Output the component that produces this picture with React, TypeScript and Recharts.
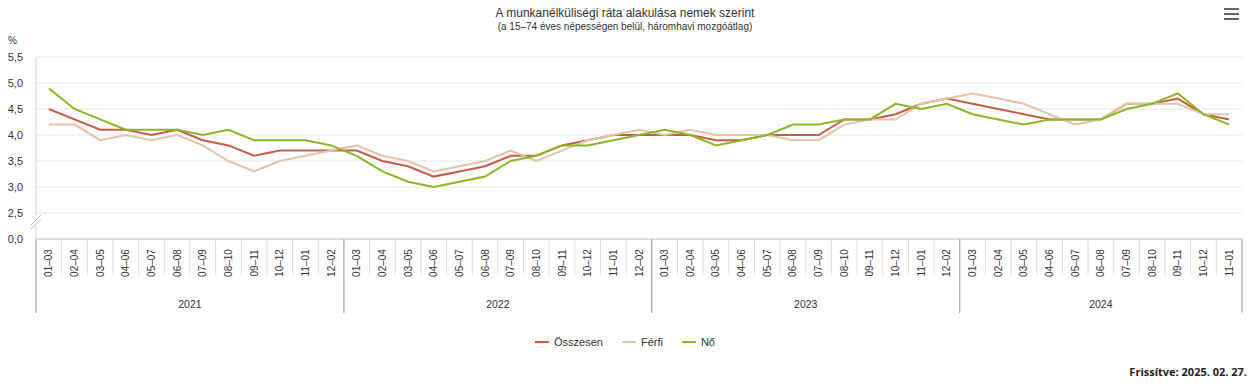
import React from 'react';
import { LineChart, Line, XAxis, YAxis, CartesianGrid } from 'recharts';

const periods = ['01–03', '02–04', '03–05', '04–06', '05–07', '06–08', '07–09', '08–10', '09–11', '10–12', '11–01', '12–02'];
const years = ['2021', '2022', '2023', '2024'];
const yearCounts = [12, 12, 12, 11];

const total = [
  4.5, 4.3, 4.1, 4.1, 4.0, 4.1, 3.9, 3.8, 3.6, 3.7, 3.7, 3.7,
  3.7, 3.5, 3.4, 3.2, 3.3, 3.4, 3.6, 3.6, 3.8, 3.9, 4.0, 4.0,
  4.0, 4.0, 3.9, 3.9, 4.0, 4.0, 4.0, 4.3, 4.3, 4.4, 4.6, 4.7,
  4.6, 4.5, 4.4, 4.3, 4.3, 4.3, 4.6, 4.6, 4.7, 4.4, 4.3,
];
const male = [
  4.2, 4.2, 3.9, 4.0, 3.9, 4.0, 3.8, 3.5, 3.3, 3.5, 3.6, 3.7,
  3.8, 3.6, 3.5, 3.3, 3.4, 3.5, 3.7, 3.5, 3.7, 3.9, 4.0, 4.1,
  4.0, 4.1, 4.0, 4.0, 4.0, 3.9, 3.9, 4.2, 4.3, 4.3, 4.6, 4.7,
  4.8, 4.7, 4.6, 4.4, 4.2, 4.3, 4.6, 4.6, 4.6, 4.4, 4.4,
];
const female = [
  4.9, 4.5, 4.3, 4.1, 4.1, 4.1, 4.0, 4.1, 3.9, 3.9, 3.9, 3.8,
  3.6, 3.3, 3.1, 3.0, 3.1, 3.2, 3.5, 3.6, 3.8, 3.8, 3.9, 4.0,
  4.1, 4.0, 3.8, 3.9, 4.0, 4.2, 4.2, 4.3, 4.3, 4.6, 4.5, 4.6,
  4.4, 4.3, 4.2, 4.3, 4.3, 4.3, 4.5, 4.6, 4.8, 4.4, 4.2,
];

const seriesNames = ['Összesen', 'Férfi', 'Nő'];
const seriesKeys = ['total', 'male', 'female'];
const seriesColors = ['#c75c46', '#e3c3ab', '#8db524'];
const seriesValues = [total, male, female];

const yTicks = [2, 2.5, 3, 3.5, 4, 4.5, 5, 5.5];

const W = 1258;
const H = 387;
const M_TOP = 57;
const M_RIGHT = 16;
const Y_W = 36;
const X_H = 75;
const M_BOTTOM = 73;
const N = total.length;
const PLOT_W = W - M_RIGHT - Y_W;
const BW = PLOT_W / N;

const yearStart: number[] = [];
{
  let acc = 0;
  yearCounts.forEach((c) => {
    yearStart.push(acc);
    acc += c;
  });
}

const data = total.map((_, i) => {
  let yi = 0;
  for (let k = 0; k < yearStart.length; k++) if (i >= yearStart[k]) yi = k;
  const row: any = { id: String(i), period: periods[(i - yearStart[yi]) % 12], year: years[yi] };
  seriesKeys.forEach((k, s) => (row[k] = seriesValues[s][i]));
  return row;
});

const FONT = '"Liberation Sans", Arial, sans-serif';

const XTick = (props: any) => {
  const { x, y, payload } = props;
  const i = Number(payload.value);
  const row = data[i];
  const xl = x - BW / 2;
  const ys = yearStart.indexOf(i);
  const isStart = ys >= 0;
  return (
    <g>
      {isStart ? (
        <line x1={xl} x2={xl} y1={y} y2={y + 74} stroke="#a8a8a8" strokeWidth={1.2} />
      ) : (
        <line x1={xl} x2={xl} y1={y} y2={y + 36} stroke="#dcdcdc" strokeWidth={1} />
      )}
      {i === N - 1 && <line x1={x + BW / 2} x2={x + BW / 2} y1={y} y2={y + 74} stroke="#a8a8a8" strokeWidth={1.2} />}
      <text
        transform={`translate(${x},${y + 24}) rotate(-90)`}
        textAnchor="middle"
        dominantBaseline="central"
        fontSize={10}
        fill="#333"
        fontFamily={FONT}
      >
        {row.period}
      </text>
      {isStart && (
        <text
          x={xl + (yearCounts[ys] * BW) / 2}
          y={y + 65}
          textAnchor="middle"
          dominantBaseline="central"
          fontSize={10.5}
          fill="#333"
          fontFamily={FONT}
        >
          {years[ys]}
        </text>
      )}
    </g>
  );
};

const fmtY = (v: number) => (v === 2 ? '0,0' : v.toFixed(1).replace('.', ','));

const YTick = (props: any) => {
  const { x, y, payload } = props;
  const v = payload.value;
  const ax = x + 13;
  return (
    <g>
      {v === 2 && (
        <g>
          <rect x={ax - 2} y={y - 23} width={4} height={10} fill="#fff" />
          <line x1={ax - 5} y1={y - 10} x2={ax + 5} y2={y - 20} stroke="#b8b8b8" strokeWidth={1} />
          <line x1={ax - 5} y1={y - 14} x2={ax + 5} y2={y - 24} stroke="#b8b8b8" strokeWidth={1} />
        </g>
      )}
      <text x={x} y={y} textAnchor="end" dominantBaseline="central" fontSize={11} fill="#333" fontFamily={FONT}>
        {fmtY(v)}
      </text>
    </g>
  );
};

export default function App() {
  return (
    <div style={{ position: 'absolute', left: 0, top: 0, width: W, height: H, background: '#fff', fontFamily: FONT }}>
      <div style={{ position: 'absolute', left: 0, width: 1250, top: 5, textAlign: 'center', fontSize: 12, color: '#333', lineHeight: '16px' }}>
        A munkanélküliségi ráta alakulása nemek szerint
      </div>
      <div style={{ position: 'absolute', left: 0, width: 1250, top: 20, textAlign: 'center', fontSize: 10, color: '#333', lineHeight: '13px' }}>
        (a 15–74 éves népességen belül, háromhavi mozgóátlag)
      </div>
      <div style={{ position: 'absolute', left: 8, top: 34, fontSize: 10, color: '#333', lineHeight: '13px' }}>%</div>
      <div style={{ position: 'absolute', left: 1224, top: 8 }}>
        {[0, 1, 2].map((k) => (
          <div key={k} style={{ width: 15, height: 2, background: '#666', marginBottom: 3 }} />
        ))}
      </div>
      <div style={{ position: 'absolute', left: 0, top: 0 }}>
        <LineChart width={W} height={H} data={data} margin={{ top: M_TOP, right: M_RIGHT, left: 0, bottom: M_BOTTOM }}>
          <CartesianGrid vertical={false} stroke="#e6e6e6" />
          <XAxis
            dataKey="id"
            scale="band"
            type="category"
            interval={0}
            height={X_H}
            tickLine={false}
            tickSize={0}
            tickMargin={0}
            axisLine={{ stroke: '#c8c8c8' }}
            tick={<XTick />}
          />
          <YAxis
            type="number"
            domain={[2, 5.5]}
            ticks={yTicks}
            width={Y_W}
            tickLine={false}
            tickSize={0}
            tickMargin={13}
            axisLine={{ stroke: '#d0d0d0' }}
            tick={<YTick />}
            interval={0}
          />
          {seriesKeys.map((k, s) => (
            <Line
              key={k}
              dataKey={k}
              name={seriesNames[s]}
              stroke={seriesColors[s]}
              strokeWidth={2}
              dot={false}
              activeDot={false}
              isAnimationActive={false}
              type="linear"
            />
          ))}
        </LineChart>
      </div>
      <div
        style={{
          position: 'absolute',
          left: 0,
          width: 1250,
          top: 334,
          display: 'flex',
          justifyContent: 'center',
          fontSize: 11,
          color: '#333',
          lineHeight: '16px',
        }}
      >
        {seriesNames.map((n, s) => (
          <div key={n} style={{ display: 'flex', alignItems: 'center', marginRight: s < seriesNames.length - 1 ? 19 : 0 }}>
            <div style={{ width: 14, height: 2, background: seriesColors[s], marginRight: 5 }} />
            <span>{n}</span>
          </div>
        ))}
      </div>
      <div
        style={{
          position: 'absolute',
          right: 11,
          top: 364,
          fontSize: 11,
          fontWeight: 700,
          color: '#222',
          fontFamily: '"Open Sans", sans-serif',
          lineHeight: '15px',
        }}
      >
        Frissítve: 2025. 02. 27.
      </div>
    </div>
  );
}
